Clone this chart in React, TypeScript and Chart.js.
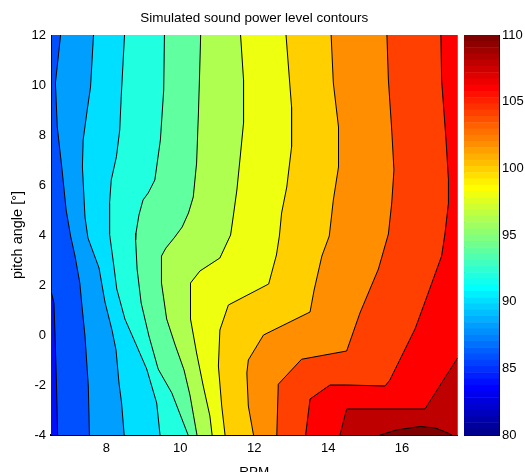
import { useEffect, useRef } from 'react';
import { Chart, registerables } from 'chart.js';
Chart.register(...registerables);

// ---------- axes / ticks ----------
const xTicks = [8, 10, 12, 14, 16];
const yTicks = [-4, -2, 0, 2, 4, 6, 8, 10, 12];
const cbTicks = [80, 85, 90, 95, 100, 105, 110];
const xRange = [6.5, 17.5];
const yRange = [-4, 12];
const cRange = [80, 110];

// ---------- contour lines (RPM x, pitch y), one per level ----------
const x84 = [6.5, 6.5];
const y84 = [12, -4];
const x86 = [6.5, 6.5, 6.58, 6.61, 6.65, 6.68];
const y86 = [12, 1.76, 1.28, -0.04, -2.04, -4];
const x88 = [6.76, 6.62, 6.67, 6.8, 6.91, 7.03, 7.15, 7.28, 7.33, 7.42, 7.51, 7.54];
const y88 = [12, 10.08, 8.32, 6.6, 5.0, 3.96, 3.16, 2.08, 1.28, -0.04, -2.04, -4];
const x90 = [7.65, 7.57, 7.48, 7.37, 7.35, 7.42, 7.5, 7.8, 7.96, 8.15, 8.26, 8.34, 8.41, 8.48];
const y90 = [12, 9.92, 9.0, 7.8, 6.72, 4.72, 3.88, 2.68, 1.32, 0.2, -0.6, -1.92, -2.72, -4];
const x92 = [8.49, 8.4, 8.36, 8.27, 8.13, 8.085, 8.085, 8.19, 8.28, 8.5, 8.82, 9.09, 9.36, 9.45];
const y92 = [12, 9.53, 8.2, 7.13, 6.2, 5.28, 4.04, 2.88, 1.84, 0.64, -0.44, -1.36, -2.72, -4];
const x94 = [9.57, 9.55, 9.46, 9.31, 9.13, 8.99, 8.88, 8.8, 8.79, 8.83, 8.94, 9.15, 9.4, 9.77, 10.21];
const y94 = [12, 9.8, 7.8, 6.2, 5.68, 5.4, 4.8, 4.08, 3.8, 2.64, 1.28, -0.04, -1.36, -2.32, -4];
const x96 = [10.55, 10.53, 10.49, 10.44, 10.35, 10.22, 10.05, 9.83, 9.61, 9.49, 9.49, 9.63, 9.86, 10.1, 10.26, 10.45];
const y96 = [12, 10.88, 8.88, 6.88, 5.52, 4.88, 4.32, 3.88, 3.48, 3.16, 2.08, 0.64, -0.4, -1.4, -2.4, -4];
const x98 = [11.63, 11.71, 11.71, 11.62, 11.53, 11.43, 11.36, 11.07, 10.53, 10.275, 10.275, 10.44, 10.62, 10.8, 10.86];
const y98 = [12, 10.2, 8.48, 7.12, 5.8, 4.72, 4.0, 3.08, 2.56, 2.08, 0.64, -0.72, -2.04, -3.24, -4];
const x100 = [12.86, 13.01, 13.01, 12.88, 12.74, 12.68, 12.6, 12.39, 11.3, 11.07, 11.03, 11.12, 11.21];
const y100 = [12, 9.12, 7.52, 5.92, 4.88, 3.96, 3.2, 2.04, 1.2, 0.2, -1.24, -2.84, -4];
const x102 = [14.08, 14.14, 14.28, 14.28, 14.14, 14.03, 13.83, 13.62, 13.51, 12.25, 11.84, 11.8, 11.84, 11.98];
const y102 = [12, 10.08, 8.32, 6.72, 5.4, 3.96, 3.16, 1.8, 0.92, 0, -1, -1.52, -2.84, -4];
const x104 = [15.59, 15.63, 15.72, 15.78, 15.72, 15.63, 15.36, 14.86, 14.5, 13.28, 12.65, 12.61];
const y104 = [12, 10.2, 8.2, 6.6, 5.28, 4.04, 2.64, 0.88, -0.64, -0.97, -1.97, -4];
const x106 = [17.05, 17.07, 17.19, 17.256, 17.256, 17.16, 17.07, 16.58, 16.35, 15.67, 15.54, 14.5, 14.05, 13.51, 13.39];
const y106 = [12, 10.2, 7.8, 6.2, 5.28, 4.04, 3.16, 1.16, 0.24, -1.8, -2.04, -2.0, -2.0, -2.56, -4];
const x108 = [17.5, 16.62, 14.5, 14.32];
const y108 = [-0.92, -2.96, -2.96, -4];
const x110 = [15.4, 15.85, 16.49, 16.9, 17.21, 17.35];
const y110 = [-4, -3.8, -3.66, -3.72, -3.9, -4];

const contours = [
  { level: 84, x: x84, y: y84, stroke: false, axis: 'y' },
  { level: 86, x: x86, y: y86, stroke: true, axis: 'y' },
  { level: 88, x: x88, y: y88, stroke: true, axis: 'y' },
  { level: 90, x: x90, y: y90, stroke: true, axis: 'y' },
  { level: 92, x: x92, y: y92, stroke: true, axis: 'y' },
  { level: 94, x: x94, y: y94, stroke: true, axis: 'y' },
  { level: 96, x: x96, y: y96, stroke: true, axis: 'y' },
  { level: 98, x: x98, y: y98, stroke: true, axis: 'y' },
  { level: 100, x: x100, y: y100, stroke: true, axis: 'y' },
  { level: 102, x: x102, y: y102, stroke: true, axis: 'y' },
  { level: 104, x: x104, y: y104, stroke: true, axis: 'y' },
  { level: 106, x: x106, y: y106, stroke: true, axis: 'y' },
  { level: 108, x: x108, y: y108, stroke: true, axis: 'y' },
  { level: 110, x: x110, y: y110, stroke: true, axis: 'x' },
];

// ---------- MATLAB jet(64) colormap ----------
const CMAP_N = 64;
function jetRow(k: number): string {
  const u = (j: number) => (j < 1 || j > 47 ? 0 : j <= 16 ? j / 16 : j <= 31 ? 1 : (48 - j) / 16);
  const r = u(k - 24), g = u(k - 8), b = u(k + 8);
  return `rgb(${Math.round(r * 255)},${Math.round(g * 255)},${Math.round(b * 255)})`;
}
function levelColor(v: number): string {
  const k = Math.min(CMAP_N, Math.floor(((v - cRange[0]) / (cRange[1] - cRange[0])) * CMAP_N) + 1);
  return jetRow(k);
}

const FONT = "'Liberation Sans', Arial, Helvetica, sans-serif";
const TXT = '#000';

export default function App() {
  const mainRef = useRef<HTMLCanvasElement>(null);
  const cbRef = useRef<HTMLCanvasElement>(null);

  useEffect(() => {
    const tickFont = { family: FONT, size: 13 };
    const n = contours.length;
    const datasets = contours.map((c, i) => ({
      data: c.x.map((v, j) => ({ x: v, y: c.y[j] })),
      indexAxis: c.axis,
      fill: c.axis === 'x' ? { value: yRange[0] } : { value: xRange[1] },
      backgroundColor: levelColor(c.level),
      borderColor: '#000',
      borderWidth: c.stroke ? 1 : 0,
      pointRadius: 0,
      pointHoverRadius: 0,
      tension: 0,
      order: n - i,
    }));

    const innerGrid = { drawOnChartArea: false, drawTicks: true, tickLength: -4, color: '#000', lineWidth: 1 };
    const border = { display: true, color: '#000', width: 1 };

    const main = new Chart(mainRef.current as HTMLCanvasElement, {
      type: 'line',
      data: { datasets: datasets as any },
      options: {
        animation: false,
        responsive: false,
        indexAxis: 'y',
        layout: { padding: { left: 0, right: 6.5, top: 0, bottom: 0 } },
        plugins: {
          legend: { display: false },
          tooltip: { enabled: false },
          title: {
            display: true,
            fullSize: false,
            text: 'Simulated sound power level contours',
            color: TXT,
            font: { family: FONT, size: 13.5, weight: 'normal', lineHeight: '14px' },
            padding: { top: 11, bottom: 10 },
          },
        },
        scales: {
          x: {
            type: 'linear', position: 'bottom', min: xRange[0], max: xRange[1], z: 1,
            afterBuildTicks: (s: any) => { s.ticks = xTicks.map((v) => ({ value: v })); },
            afterFit: (s: any) => { s.height = 45; },
            ticks: { font: tickFont, color: TXT, padding: 10, maxRotation: 0, autoSkip: false },
            grid: innerGrid, border: { display: true, color: '#000', width: 2 },
            title: { display: true, text: 'RPM', color: TXT, font: { family: FONT, size: 13.5, lineHeight: '14px' }, padding: { top: 0, bottom: 1 } },
          },
          x2: {
            type: 'linear', position: 'top', axis: 'x', min: xRange[0], max: xRange[1], z: 1,
            afterBuildTicks: (s: any) => { s.ticks = xTicks.map((v) => ({ value: v })); },
            afterFit: (s: any) => { s.height = 0; },
            ticks: { display: false }, grid: innerGrid, border: { display: true, color: '#444', width: 1 },
          },
          y: {
            type: 'linear', position: 'left', min: yRange[0], max: yRange[1], z: 1,
            afterBuildTicks: (s: any) => { s.ticks = yTicks.map((v) => ({ value: v })); },
            afterFit: (s: any) => { s.width = 51; },
            ticks: { font: tickFont, color: TXT, padding: 9, autoSkip: false },
            grid: innerGrid, border,
            title: { display: true, text: 'pitch angle [°]', color: TXT, font: { family: FONT, size: 14.5, lineHeight: '14px' }, padding: { top: 11, bottom: 0 } },
          },
          y2: {
            type: 'linear', position: 'right', axis: 'y', min: yRange[0], max: yRange[1], z: 1,
            afterBuildTicks: (s: any) => { s.ticks = yTicks.map((v) => ({ value: v })); },
            afterFit: (s: any) => { s.width = 0; },
            ticks: { display: false }, grid: innerGrid, border,
          },
        },
      } as any,
    });

    // colour bar: one floating bar per colormap row
    const step = (cRange[1] - cRange[0]) / CMAP_N;
    const rows = Array.from({ length: CMAP_N }, (_, i) => i + 1);
    const cb = new Chart(cbRef.current as HTMLCanvasElement, {
      type: 'bar',
      data: {
        labels: [''],
        datasets: rows.map((k) => ({
          data: [[cRange[0] + (k - 1) * step, cRange[0] + k * step]],
          backgroundColor: jetRow(k),
          borderWidth: 0,
          barPercentage: 1,
          categoryPercentage: 1,
          grouped: false,
        })) as any,
      },
      options: {
        animation: false,
        responsive: false,
        layout: { padding: { left: 6, right: 0, top: 35, bottom: 45 } },
        plugins: { legend: { display: false }, tooltip: { enabled: false } },
        scales: {
          x: {
            type: 'category', position: 'bottom', z: 1,
            ticks: { display: false }, grid: { display: false }, border,
            afterFit: (s: any) => { s.height = 0; },
          },
          xTop: {
            type: 'category', position: 'top', axis: 'x', z: 1,
            ticks: { display: false }, grid: { display: false }, border,
            afterFit: (s: any) => { s.height = 0; },
          },
          y: {
            type: 'linear', position: 'right', min: cRange[0], max: cRange[1], z: 1,
            afterBuildTicks: (s: any) => { s.ticks = cbTicks.map((v) => ({ value: v })); },
            afterFit: (s: any) => { s.width = 26; },
            ticks: { font: tickFont, color: TXT, padding: 7, autoSkip: false },
            grid: innerGrid, border,
          },
          yLeft: {
            type: 'linear', position: 'left', axis: 'y', min: cRange[0], max: cRange[1], z: 1,
            ticks: { display: false }, grid: { display: false }, border,
            afterFit: (s: any) => { s.width = 0; },
          },
        },
      } as any,
    });

    return () => {
      main.destroy();
      cb.destroy();
    };
  }, []);

  return (
    <div style={{ position: 'fixed', left: 0, top: 0, width: 525, height: 472, overflow: 'hidden', background: '#fff' }}>
      <canvas ref={mainRef} width={464} height={480} style={{ position: 'absolute', left: 0, top: 0 }} />
      <canvas ref={cbRef} width={67} height={480} style={{ position: 'absolute', left: 458, top: 0 }} />
    </div>
  );
}
